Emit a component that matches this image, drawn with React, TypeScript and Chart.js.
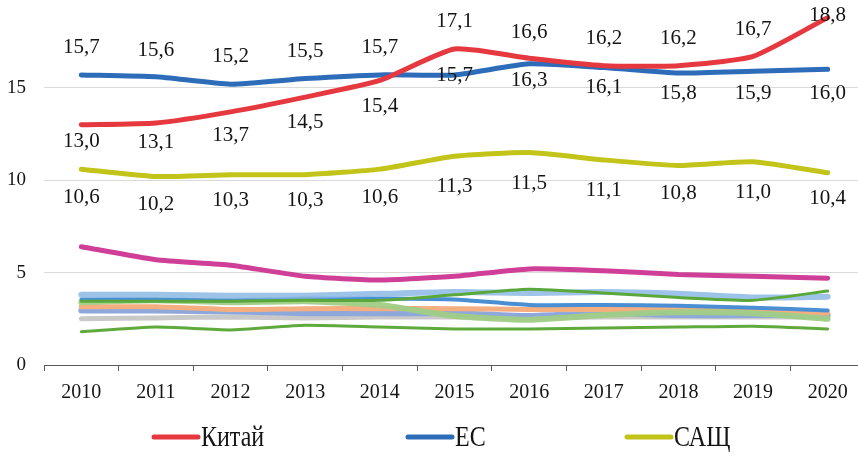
import React, { useEffect, useRef } from "react";
import { Chart, registerables } from "chart.js";

Chart.register(...registerables);

// ---- data ----
const YEARS = ["2010", "2011", "2012", "2013", "2014", "2015", "2016", "2017", "2018", "2019", "2020"];
const CHINA = [13.0, 13.1, 13.7, 14.5, 15.4, 17.1, 16.6, 16.2, 16.2, 16.7, 18.8];
const EU = [15.7, 15.6, 15.2, 15.5, 15.7, 15.7, 16.3, 16.1, 15.8, 15.9, 16.0];
const USA = [10.6, 10.2, 10.3, 10.3, 10.6, 11.3, 11.5, 11.1, 10.8, 11.0, 10.4];
const OTHER_MAGENTA = [6.4, 5.7, 5.4, 4.8, 4.6, 4.8, 5.2, 5.1, 4.9, 4.8, 4.7];
const OTHER_LIGHTBLUE = [3.8, 3.8, 3.75, 3.75, 3.85, 3.95, 3.9, 3.95, 3.85, 3.65, 3.7];
const OTHER_BLUE = [3.55, 3.55, 3.5, 3.6, 3.6, 3.55, 3.25, 3.25, 3.2, 3.1, 2.95];
const OTHER_GREEN = [3.45, 3.45, 3.45, 3.5, 3.5, 3.8, 4.1, 3.9, 3.65, 3.5, 4.0];
const OTHER_LIGHTGREEN = [3.4, 3.5, 3.4, 3.45, 3.25, 2.65, 2.45, 2.7, 2.85, 2.8, 2.5];
const OTHER_ORANGE = [3.15, 3.15, 3.0, 3.05, 3.05, 3.05, 3.0, 3.0, 3.0, 2.95, 2.8];
const OTHER_PERIWINKLE = [2.95, 2.95, 2.9, 2.8, 2.8, 2.8, 2.65, 2.8, 2.7, 2.7, 2.7];
const OTHER_GRAY = [2.5, 2.55, 2.6, 2.55, 2.6, 2.6, 2.55, 2.6, 2.6, 2.6, 2.6];
const OTHER_DARKGREEN = [1.8, 2.05, 1.9, 2.15, 2.05, 1.95, 1.95, 2.0, 2.05, 2.1, 1.95];
const Y_TICKS = [0, 5, 10, 15];
const LEGEND_NAMES = ["Китай", "ЕС", "САЩ"];

// ---- styles ----
const RED = "#e5383f";
const BLUE = "#2c6cb8";
const OLIVE = "#c2c41a";
const SERIF = "'Liberation Serif', 'DejaVu Serif', serif";
const TEXT = "#141414";

// vertical offsets (px) of value labels from their points
const CHINA_DY = [17, 20, 24, 25, 26, -28, -26, -27, -27, -27, -2];
const EU_DY = [-27, -26, -28, -27, -27, 1, 17, 20, 20, 22, 24];
const USA_DY = [28, 28, 26, 26, 28, 30, 31, 31, 28, 31, 26];

// legend layout (x of marker start, marker length)
const LEGEND_X = [154, 408, 627];
const LEGEND_MARK = 44;
const LEGEND_Y = 437;

const valueLabels = {
  id: "valueLabels",
  afterDatasetsDraw(chart: any) {
    const ctx = chart.ctx;
    ctx.save();
    ctx.font = `21px ${SERIF}`;
    ctx.fillStyle = TEXT;
    ctx.textAlign = "center";
    ctx.textBaseline = "middle";
    chart.data.datasets.forEach((ds: any, i: number) => {
      const dy = ds.labelOffsets;
      if (!dy) return;
      const meta = chart.getDatasetMeta(i);
      meta.data.forEach((pt: any, j: number) => {
        let y = pt.y + dy[j];
        if (y < 15) y = 15;
        ctx.fillText(Number(ds.data[j]).toFixed(1).replace(".", ","), pt.x, y);
      });
    });
    ctx.restore();
  },
};

const customLegend = {
  id: "customLegend",
  afterDraw(chart: any) {
    const ctx = chart.ctx;
    ctx.save();
    LEGEND_NAMES.forEach((name, i) => {
      const ds = chart.data.datasets.find((d: any) => d.label === name);
      const x = LEGEND_X[i];
      ctx.strokeStyle = ds.borderColor;
      ctx.lineWidth = 5;
      ctx.lineCap = "round";
      ctx.beginPath();
      ctx.moveTo(x, LEGEND_Y);
      ctx.lineTo(x + LEGEND_MARK, LEGEND_Y);
      ctx.stroke();
      ctx.save();
      ctx.translate(x + LEGEND_MARK + 3, LEGEND_Y + 1);
      ctx.scale(1, 1.2);
      ctx.font = `24px ${SERIF}`;
      ctx.textBaseline = "middle";
      ctx.textAlign = "left";
      ctx.fillStyle = TEXT;
      ctx.fillText(name, 0, 0);
      ctx.restore();
    });
    ctx.restore();
  },
};

function line(label: string, data: number[], color: string, width: number, extra: any = {}) {
  return {
    label,
    data,
    borderColor: color,
    backgroundColor: color,
    borderWidth: width,
    pointRadius: 0,
    tension: 0.18,
    fill: false,
    borderCapStyle: "round",
    borderJoinStyle: "round",
    ...extra,
  };
}

export default function App() {
  const ref = useRef<HTMLCanvasElement | null>(null);

  useEffect(() => {
    let chart: any = null;
    let cancelled = false;
    const build = () => {
      if (cancelled || !ref.current) return;
      chart = new Chart(ref.current, {
        type: "line",
        data: {
          labels: YEARS,
          datasets: [
            line("Китай", CHINA, RED, 5, { labelOffsets: CHINA_DY }),
            line("ЕС", EU, BLUE, 5, { labelOffsets: EU_DY }),
            line("САЩ", USA, OLIVE, 5, { labelOffsets: USA_DY }),
            line("m", OTHER_MAGENTA, "#cf3f98", 5),
            line("dg", OTHER_DARKGREEN, "#5faa3c", 3),
            line("g", OTHER_GREEN, "#5aa83a", 3),
            line("lb", OTHER_LIGHTBLUE, "rgba(140,185,228,0.85)", 6),
            line("b", OTHER_BLUE, "#4a8fd3", 4),
            line("lg", OTHER_LIGHTGREEN, "rgba(160,206,134,0.95)", 6),
            line("o", OTHER_ORANGE, "#f4ae80", 5),
            line("p", OTHER_PERIWINKLE, "#8fa8dc", 6),
            line("gr", OTHER_GRAY, "#c9c9c9", 5),
          ],
        },
        options: {
          animation: false,
          responsive: false,
          devicePixelRatio: 1,
          layout: { padding: { top: 1, right: 1, left: 0, bottom: 42 } },
          plugins: {
            legend: { display: false },
            tooltip: { enabled: false },
          },
          scales: {
            x: {
              type: "category",
              offset: true,
              grid: {
                display: true,
                drawOnChartArea: false,
                drawTicks: true,
                tickLength: 6,
                color: "#595959",
                offset: true,
              },
              border: { display: true, color: "#595959", width: 1 },
              ticks: {
                padding: 10,
                color: TEXT,
                font: { family: SERIF, size: 20 },
                maxRotation: 0,
                autoSkip: false,
              },
              afterFit: (s: any) => {
                s.height = 50;
              },
            },
            y: {
              min: 0,
              max: 19.7,
              afterBuildTicks: (s: any) => {
                s.ticks = Y_TICKS.map((v) => ({ value: v }));
              },
              grid: {
                drawTicks: false,
                color: (c: any) => (c.tick && c.tick.value === 0 ? "rgba(0,0,0,0)" : "#dadada"),
                lineWidth: 1,
              },
              border: { display: false },
              ticks: {
                padding: 18,
                color: TEXT,
                font: { family: SERIF, size: 19 },
                callback: (v: any) => String(v),
              },
              afterFit: (s: any) => {
                s.width = 44;
                s.paddingTop = 0;
                s.paddingBottom = 0;
              },
            },
          },
        },
        plugins: [valueLabels, customLegend],
      } as any);
    };
    const fonts: any = (document as any).fonts;
    if (fonts && fonts.load) {
      Promise.all([
        fonts.load(`21px "Liberation Serif"`, "0123456789,"),
        fonts.load(`24px "Liberation Serif"`, "КитайЕСАЩ"),
      ])
        .catch(() => null)
        .then(build);
    } else {
      build();
    }
    return () => {
      cancelled = true;
      if (chart) chart.destroy();
    };
  }, []);

  return (
    <div
      style={{
        position: "fixed",
        left: 0,
        top: 0,
        width: 858,
        height: 457,
        overflow: "hidden",
        background: "#fff",
      }}
    >
      <canvas ref={ref} width={866} height={457} style={{ display: "block", width: 866, height: 457 }} />
    </div>
  );
}
